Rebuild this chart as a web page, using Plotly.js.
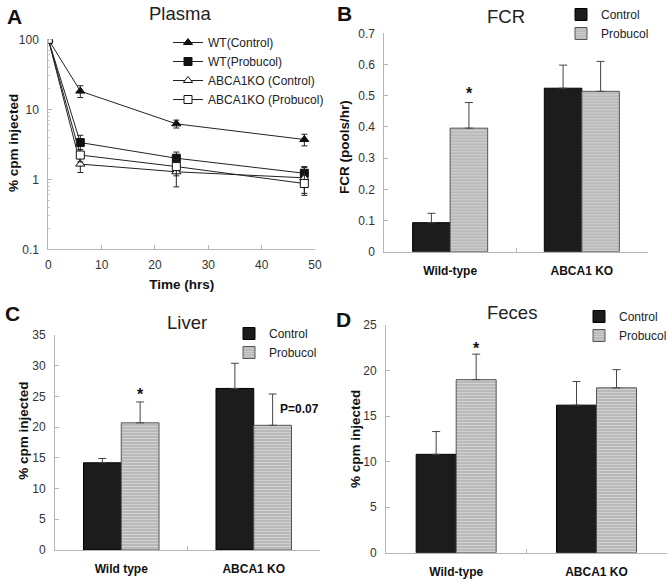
<!DOCTYPE html>
<html><head><meta charset="utf-8">
<script src="https://cdn.plot.ly/plotly-3.0.1.min.js"></script>
<style>html,body{margin:0;padding:0;background:#fff;overflow:hidden}#chart{width:672px;height:584px}</style>
</head><body><div id="chart"></div>
<script>
// Panel A: plasma decay
const timeHrs = [0, 6, 24, 48];
const wtControl = [100, 18.2, 6.2, 3.7];
const wtControlErr = [0, 3.5, 0.8, 0.7];
const wtProbucol = [100, 3.35, 2.0, 1.22];
const wtProbucolErr = [0, 0.9, 0.45, 0.3];
const koControl = [100, 1.65, 1.28, 1.05];
const koControlErr = [0, 0.4, 0.5, 0.42];
const koProbucol = [100, 2.22, 1.52, 0.87];
const koProbucolErr = [0, 0.45, 0.4, 0.28];
const plasmaNames = ['WT(Control)', 'WT(Probucol)', 'ABCA1KO (Control)', 'ABCA1KO (Probucol)'];
const logTickVals = [0.1, 1, 10, 100];
const logTickText = ['0.1', '1', '10', '100'];

// Panels B-D: bars
const groupsB = ['Wild-type', 'ABCA1 KO'];
const fcrControl = [0.093, 0.524];
const fcrControlErr = [0.030, 0.074];
const fcrProbucol = [0.396, 0.514];
const fcrProbucolErr = [0.082, 0.096];

const groupsC = ['Wild type', 'ABCA1 KO'];
const liverControl = [14.2, 26.3];
const liverControlErr = [0.7, 4.1];
const liverProbucol = [20.7, 20.3];
const liverProbucolErr = [3.4, 5.1];

const groupsD = ['Wild-type', 'ABCA1 KO'];
const fecesControl = [10.8, 16.2];
const fecesControlErr = [2.5, 2.6];
const fecesProbucol = [19.0, 18.1];
const fecesProbucolErr = [2.8, 2.0];

const FONT = 'Liberation Sans, Arial, sans-serif';
const W = 672, H = 584;
const px = x => x / W;
const py = y => 1 - y / H;

const markerStyles = [
  {symbol: 'triangle-up', color: '#111', line: {color: '#111', width: 1}},
  {symbol: 'square', color: '#111', line: {color: '#111', width: 1}},
  {symbol: 'triangle-up', color: '#fff', line: {color: '#111', width: 1}},
  {symbol: 'square', color: '#fff', line: {color: '#111', width: 1}}
];
const plasmaVals = [wtControl, wtProbucol, koControl, koProbucol];
const plasmaErrs = [wtControlErr, wtProbucolErr, koControlErr, koProbucolErr];

const traces = [];
plasmaVals.forEach((v, i) => {
  traces.push({
    type: 'scatter', mode: 'lines+markers', x: timeHrs, y: v, name: plasmaNames[i],
    xaxis: 'x', yaxis: 'y', legend: 'legend',
    line: {color: '#222', width: 1},
    marker: Object.assign({size: 8}, markerStyles[i]),
    error_y: {type: 'data', array: plasmaErrs[i], color: '#222', thickness: 1, width: 3}
  });
});

const probFill = {color: '#b9b9b9', line: {color: '#555', width: 1},
  pattern: {shape: '-', fgcolor: '#d2d2d2', bgcolor: '#b9b9b9', size: 3, solidity: 0.35}};
const ctrlFill = {color: '#1c1c1c', line: {color: '#000', width: 1}};

function barPair(cats, c, ce, p, pe, xa, ya, lg) {
  traces.push({type: 'bar', x: cats, y: c, name: 'Control', xaxis: xa, yaxis: ya, legend: lg,
    marker: ctrlFill,
    error_y: {type: 'data', array: ce, arrayminus: [0, 0], symmetric: false, color: '#444', thickness: 1, width: 4}});
  traces.push({type: 'bar', x: cats, y: p, name: 'Probucol', xaxis: xa, yaxis: ya, legend: lg,
    marker: probFill,
    error_y: {type: 'data', array: pe, arrayminus: [0, 0], symmetric: false, color: '#444', thickness: 1, width: 4}});
}
barPair(groupsB, fcrControl, fcrControlErr, fcrProbucol, fcrProbucolErr, 'x2', 'y2', 'legend2');
barPair(groupsC, liverControl, liverControlErr, liverProbucol, liverProbucolErr, 'x3', 'y3', 'legend3');
barPair(groupsD, fecesControl, fecesControlErr, fecesProbucol, fecesProbucolErr, 'x4', 'y4', 'legend4');

const axisLine = '#b5b5b5';
const tickFont = {family: FONT, size: 12, color: '#333'};
const titleFont = {family: FONT, size: 13.5, color: '#111', weight: 'bold'};

function yAx(domain, range, extra) {
  return Object.assign({domain: domain, range: range, showgrid: false, zeroline: false,
    showline: true, linecolor: axisLine, linewidth: 1, ticks: 'inside', ticklen: 4, tickcolor: axisLine,
    tickfont: tickFont, ticklabelstandoff: 6, fixedrange: true}, extra);
}
function xCat(domain, anchor) {
  return {domain: domain, anchor: anchor, type: 'category', showgrid: false, zeroline: false,
    showline: true, linecolor: axisLine, linewidth: 1, ticks: 'inside', ticklen: 4, tickcolor: axisLine,
    tickson: 'boundaries', tickfont: {family: FONT, size: 12, color: '#111', weight: 'bold'},
    ticklabelstandoff: 8, fixedrange: true};
}
function note(text, x, y, size, bold) {
  return {text: text, x: px(x), y: py(y), xref: 'paper', yref: 'paper', xanchor: 'center', yanchor: 'middle',
    showarrow: false, font: {family: FONT, size: size, color: bold ? '#111' : '#222', weight: bold ? 'bold' : 'normal'}};
}
function yTitle(text, x, y) {
  return {text: text, x: px(x), y: py(y), xref: 'paper', yref: 'paper', xanchor: 'center', yanchor: 'middle',
    textangle: -90, showarrow: false, font: titleFont};
}

const layout = {
  width: W, height: H, margin: {l: 0, r: 0, t: 0, b: 0, autoexpand: false},
  paper_bgcolor: '#fff', plot_bgcolor: 'rgba(0,0,0,0)',
  font: {family: FONT, color: '#222'},
  barmode: 'group',
  bargap: 0.43, bargroupgap: 0,
  xaxis: {domain: [px(48.3), px(315)], anchor: 'y', range: [0, 50], dtick: 10,
    showgrid: false, zeroline: false, showline: true, linecolor: axisLine, ticks: 'inside', ticklen: 4,
    tickcolor: axisLine, tickfont: tickFont, ticklabelstandoff: 4,
    title: {text: 'Time (hrs)', font: titleFont, standoff: 8}, fixedrange: true},
  yaxis: yAx([py(249.3), py(39.3)], [-1, 2], {type: 'log', anchor: 'x',
    tickvals: logTickVals, ticktext: logTickText,
    minor: {ticks: 'inside', ticklen: 2, tickcolor: '#ccc', dtick: 'D1', showgrid: false}}),
  xaxis2: xCat([px(384.3), px(647.7)], 'y2'),
  yaxis2: yAx([py(251.7), py(33.3)], [0, 0.7], {anchor: 'x2', dtick: 0.1, tickformat: '.1~f'}),
  xaxis3: xCat([px(55), px(320)], 'y3'),
  yaxis3: yAx([py(550), py(335)], [0, 35], {anchor: 'x3', dtick: 5}),
  xaxis4: xCat([px(386), px(666.7)], 'y4'),
  yaxis4: yAx([py(552.7), py(325)], [0, 25], {anchor: 'x4', dtick: 5}),
  legend: {x: px(168), y: py(28), xanchor: 'left', yanchor: 'top', bgcolor: 'rgba(0,0,0,0)',
    font: {family: FONT, size: 12, color: '#222'}, itemwidth: 30, tracegroupgap: 0},
  legend2: {x: px(561), y: py(0), xanchor: 'left', yanchor: 'top', bgcolor: 'rgba(0,0,0,0)',
    font: {family: FONT, size: 12, color: '#222'}, itemwidth: 30},
  legend3: {x: px(229), y: py(319), xanchor: 'left', yanchor: 'top', bgcolor: 'rgba(0,0,0,0)',
    font: {family: FONT, size: 12, color: '#222'}, itemwidth: 30},
  legend4: {x: px(579), y: py(302), xanchor: 'left', yanchor: 'top', bgcolor: 'rgba(0,0,0,0)',
    font: {family: FONT, size: 12, color: '#222'}, itemwidth: 30},
  annotations: [
    note('Plasma', 180, 13.5, 18.5, false),
    note('FCR', 506, 16.7, 18.5, false),
    note('Liver', 187, 322.5, 18.5, false),
    note('Feces', 512, 312.5, 18.5, false),
    note('A', 14, 16, 21, true),
    note('B', 344.5, 14, 21, true),
    note('C', 12.5, 313.5, 21, true),
    note('D', 343.5, 319.5, 21, true),
    yTitle('% cpm injected', 13, 143),
    yTitle('FCR (pools/hr)', 345, 147),
    yTitle('% cpm injected', 22.7, 431),
    yTitle('% cpm injected', 355, 439),
    {text: '*', x: groupsB[0], y: fcrProbucol[0] + fcrProbucolErr[0], xref: 'x2', yref: 'y2', xshift: 19, yshift: 9, showarrow: false, font: {family: FONT, size: 16, color: '#111', weight: 'bold'}},
    {text: '*', x: groupsC[0], y: liverProbucol[0] + liverProbucolErr[0], xref: 'x3', yref: 'y3', xshift: 19, yshift: 7, showarrow: false, font: {family: FONT, size: 16, color: '#111', weight: 'bold'}},
    {text: '*', x: groupsD[0], y: fecesProbucol[0] + fecesProbucolErr[0], xref: 'x4', yref: 'y4', xshift: 20, yshift: 6, showarrow: false, font: {family: FONT, size: 16, color: '#111', weight: 'bold'}},
    {text: 'P=0.07', x: px(278), y: py(409), xref: 'paper', yref: 'paper', xanchor: 'left', yanchor: 'middle', showarrow: false, font: {family: FONT, size: 12, color: '#111', weight: 'bold'}}
  ]
};

Plotly.newPlot('chart', traces, layout, {displayModeBar: false, staticPlot: true});
</script>
</body></html>
